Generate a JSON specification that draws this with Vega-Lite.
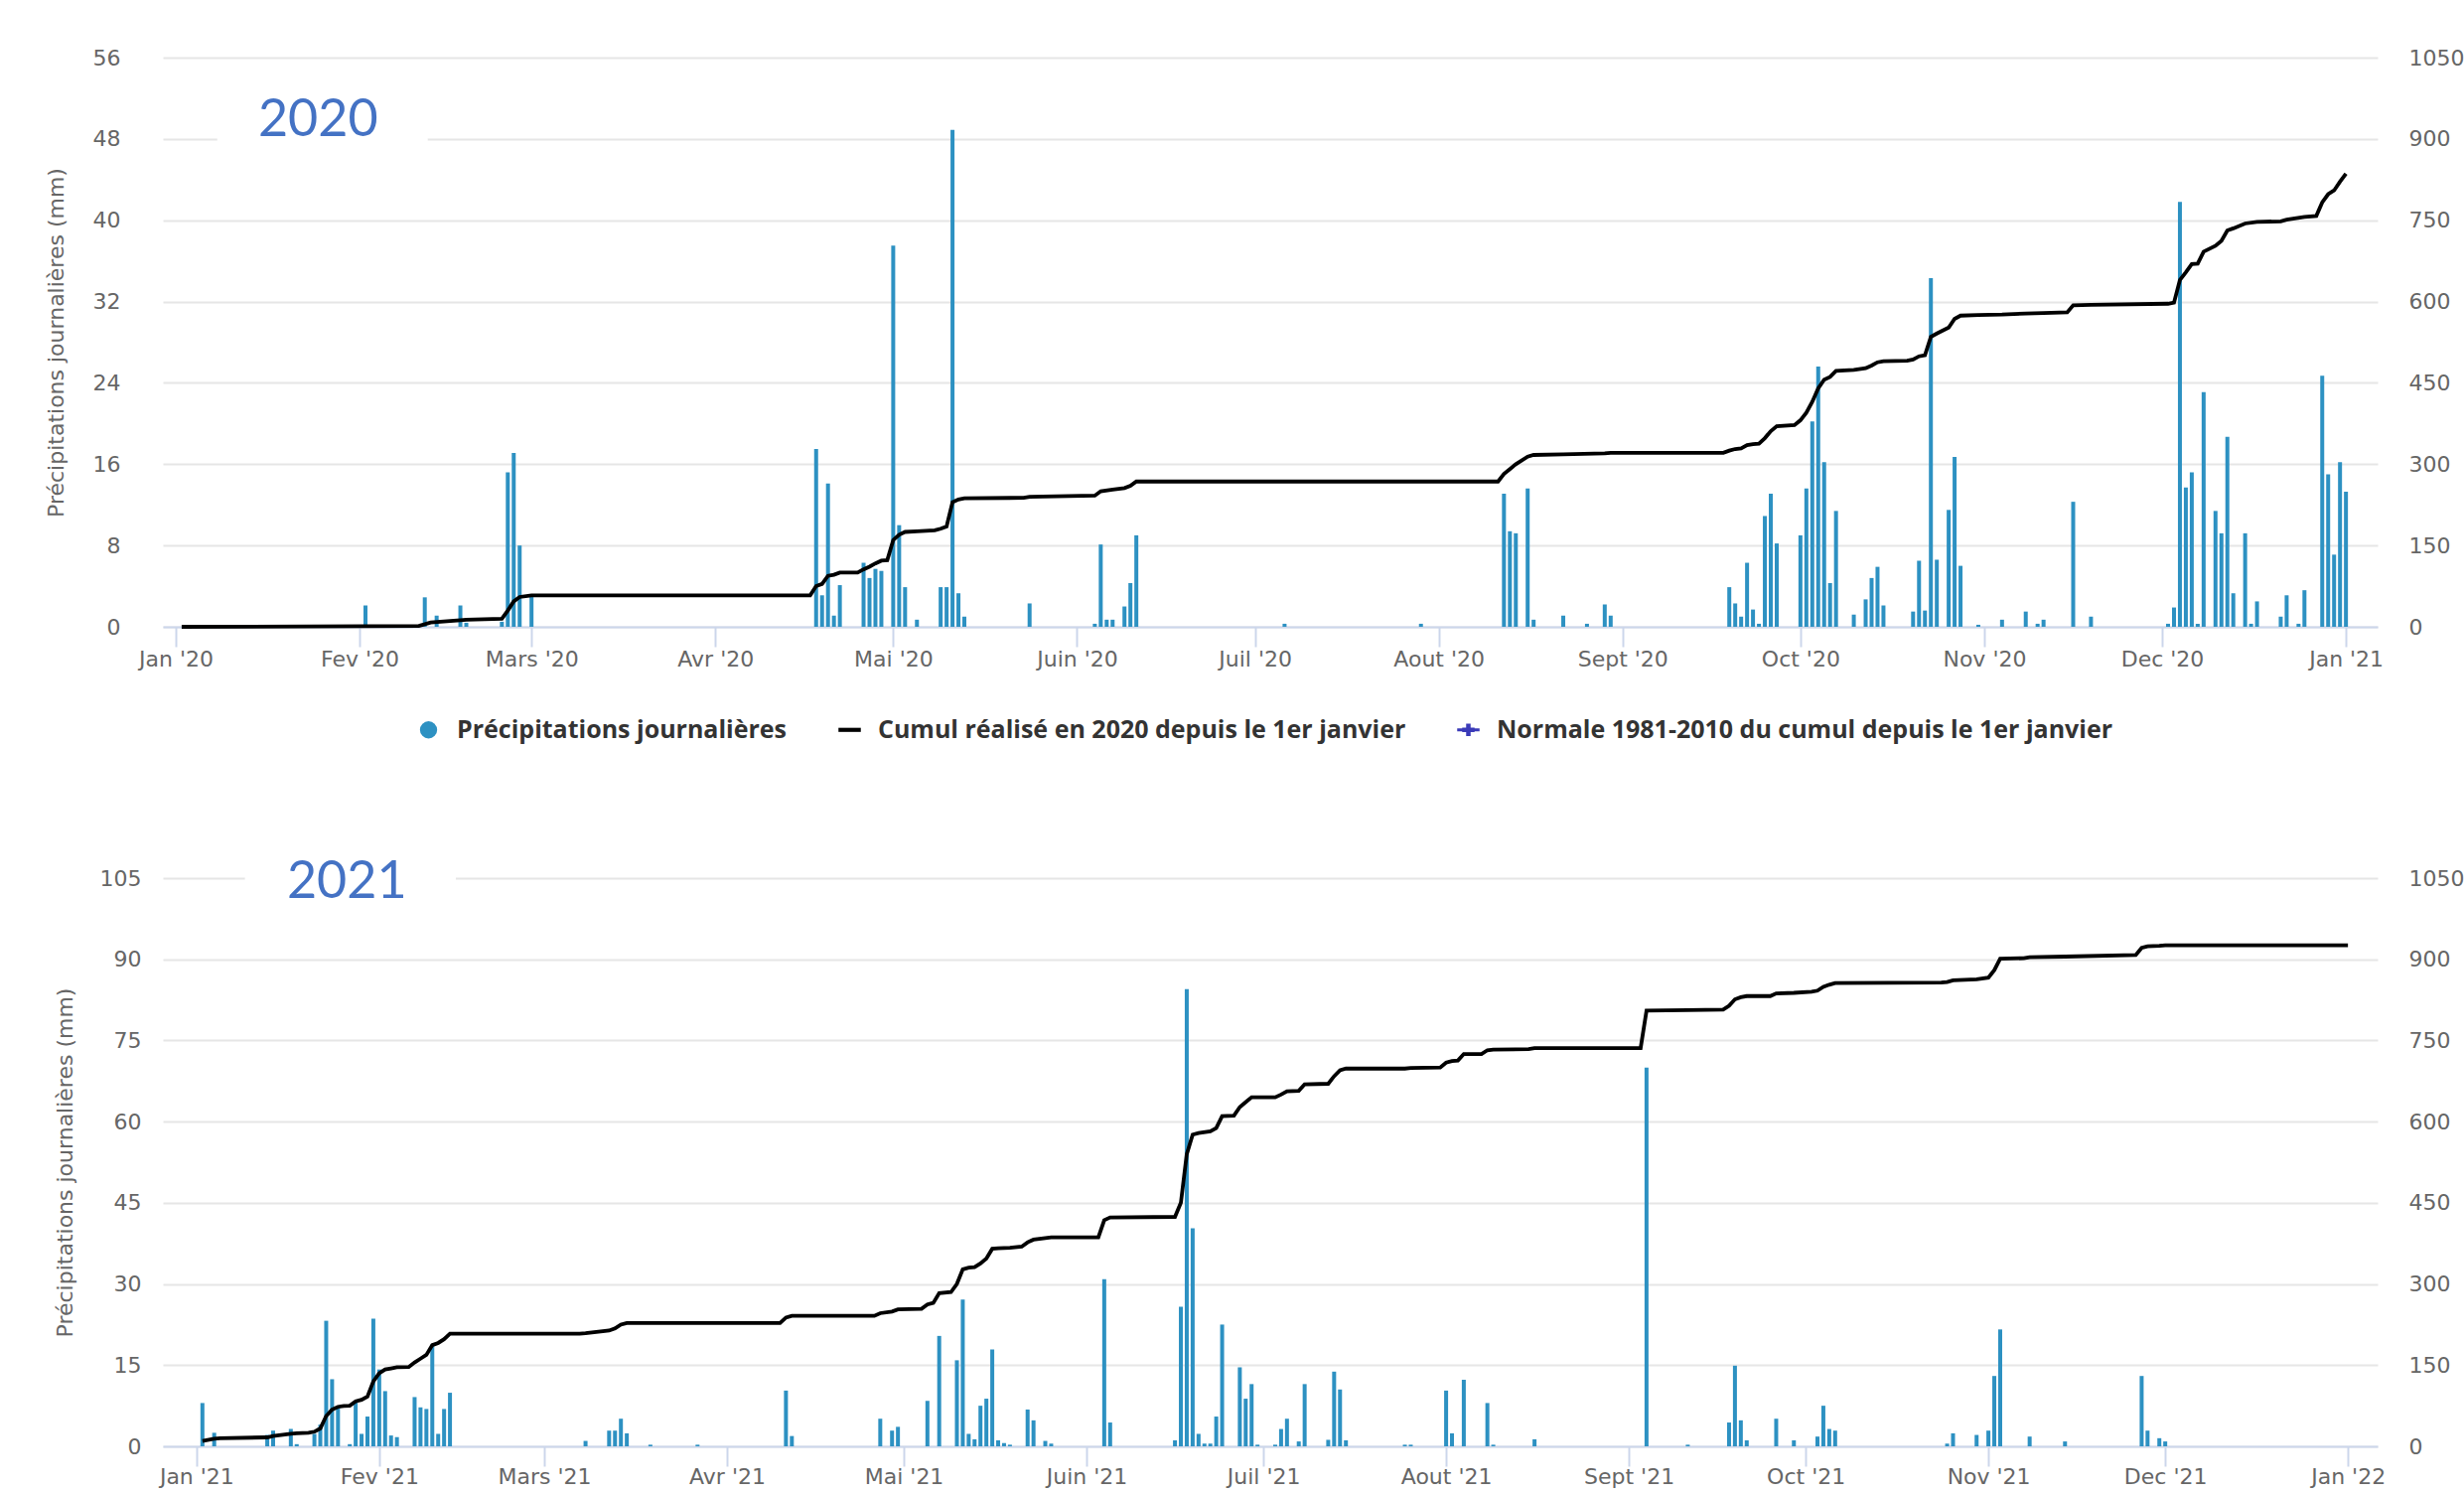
{
"$schema": "https://vega.github.io/schema/vega-lite/v6.json",
"background": "white",
"padding": {"top": 47, "left": 45, "right": 0, "bottom": 5},
"spacing": 188,
"columns": 1,
"align": "none",
"config": {
  "view": {"stroke": null},
  "font": "DejaVu Sans",
  "axis": {"labelFont": "DejaVu Sans", "labelFontSize": 22, "labelColor": "#666666", "titleFont": "DejaVu Sans", "titleFontSize": 22, "titleColor": "#666666", "titleFontWeight": "normal", "gridColor": "#e6e6e6", "gridWidth": 2}
},
"datasets": {
"p2020": [
{"date":"2020-02-02","p":2.1},{"date":"2020-02-12","p":2.9},{"date":"2020-02-14","p":1.1},{"date":"2020-02-18","p":2.1},{"date":"2020-02-19","p":0.4},{"date":"2020-02-25","p":0.5},{"date":"2020-02-26","p":15.2},{"date":"2020-02-27","p":17.1},{"date":"2020-02-28","p":8.0},{"date":"2020-03-01","p":3.1},
{"date":"2020-04-18","p":17.5},{"date":"2020-04-19","p":3.1},{"date":"2020-04-20","p":14.1},{"date":"2020-04-21","p":1.1},{"date":"2020-04-22","p":4.1},{"date":"2020-04-26","p":6.3},{"date":"2020-04-27","p":4.8},{"date":"2020-04-28","p":5.7},{"date":"2020-04-29","p":5.5},
{"date":"2020-05-01","p":37.5},{"date":"2020-05-02","p":10.0},{"date":"2020-05-03","p":3.9},{"date":"2020-05-05","p":0.7},{"date":"2020-05-09","p":3.9},{"date":"2020-05-10","p":3.9},{"date":"2020-05-11","p":48.9},{"date":"2020-05-12","p":3.3},{"date":"2020-05-13","p":1.0},{"date":"2020-05-24","p":2.3},
{"date":"2020-06-04","p":0.3},{"date":"2020-06-05","p":8.1},{"date":"2020-06-06","p":0.7},{"date":"2020-06-07","p":0.7},{"date":"2020-06-09","p":2.0},{"date":"2020-06-10","p":4.3},{"date":"2020-06-11","p":9.0},
{"date":"2020-07-06","p":0.3},{"date":"2020-07-29","p":0.3},
{"date":"2020-08-12","p":13.1},{"date":"2020-08-13","p":9.4},{"date":"2020-08-14","p":9.2},{"date":"2020-08-16","p":13.6},{"date":"2020-08-17","p":0.7},{"date":"2020-08-22","p":1.1},{"date":"2020-08-26","p":0.3},{"date":"2020-08-29","p":2.2},{"date":"2020-08-30","p":1.1},
{"date":"2020-09-19","p":3.9},{"date":"2020-09-20","p":2.3},{"date":"2020-09-21","p":1.0},{"date":"2020-09-22","p":6.3},{"date":"2020-09-23","p":1.7},{"date":"2020-09-24","p":0.3},{"date":"2020-09-25","p":10.9},{"date":"2020-09-26","p":13.1},{"date":"2020-09-27","p":8.2},
{"date":"2020-10-01","p":9.0},{"date":"2020-10-02","p":13.6},{"date":"2020-10-03","p":20.2},{"date":"2020-10-04","p":25.6},{"date":"2020-10-05","p":16.2},{"date":"2020-10-06","p":4.3},{"date":"2020-10-07","p":11.4},{"date":"2020-10-10","p":1.2},{"date":"2020-10-12","p":2.7},{"date":"2020-10-13","p":4.8},{"date":"2020-10-14","p":5.9},{"date":"2020-10-15","p":2.1},{"date":"2020-10-20","p":1.5},{"date":"2020-10-21","p":6.5},{"date":"2020-10-22","p":1.6},{"date":"2020-10-23","p":34.3},{"date":"2020-10-24","p":6.6},{"date":"2020-10-26","p":11.5},{"date":"2020-10-27","p":16.7},{"date":"2020-10-28","p":6.0},{"date":"2020-10-31","p":0.2},
{"date":"2020-11-04","p":0.7},{"date":"2020-11-08","p":1.5},{"date":"2020-11-10","p":0.3},{"date":"2020-11-11","p":0.7},{"date":"2020-11-16","p":12.3},{"date":"2020-11-19","p":1.0},
{"date":"2020-12-02","p":0.3},{"date":"2020-12-03","p":1.9},{"date":"2020-12-04","p":41.8},{"date":"2020-12-05","p":13.7},{"date":"2020-12-06","p":15.2},{"date":"2020-12-07","p":0.3},{"date":"2020-12-08","p":23.1},{"date":"2020-12-10","p":11.4},{"date":"2020-12-11","p":9.2},{"date":"2020-12-12","p":18.7},{"date":"2020-12-13","p":3.3},{"date":"2020-12-15","p":9.2},{"date":"2020-12-16","p":0.3},{"date":"2020-12-17","p":2.5},{"date":"2020-12-21","p":1.0},{"date":"2020-12-22","p":3.1},{"date":"2020-12-24","p":0.3},{"date":"2020-12-25","p":3.6},{"date":"2020-12-28","p":24.7},{"date":"2020-12-29","p":15.0},{"date":"2020-12-30","p":7.1},{"date":"2020-12-31","p":16.2},{"date":"2021-01-01","p":13.3}
],
"c2020": [
{"date":"2020-01-02","c":0},{"date":"2020-02-02","c":1},{"date":"2020-02-11","c":1.5},{"date":"2020-02-13","c":8},{"date":"2020-02-18","c":12},{"date":"2020-02-19","c":13},{"date":"2020-02-25","c":15},{"date":"2020-02-26","c":30},{"date":"2020-02-27","c":47},{"date":"2020-02-28","c":55},{"date":"2020-03-01","c":58},
{"date":"2020-04-17","c":58},{"date":"2020-04-18","c":75},{"date":"2020-04-19","c":79},{"date":"2020-04-20","c":94},{"date":"2020-04-21","c":96},{"date":"2020-04-22","c":100},{"date":"2020-04-25","c":100},{"date":"2020-04-26","c":106},{"date":"2020-04-27","c":111},{"date":"2020-04-28","c":117},{"date":"2020-04-29","c":122},{"date":"2020-04-30","c":123},
{"date":"2020-05-01","c":160},{"date":"2020-05-02","c":170},{"date":"2020-05-03","c":175},{"date":"2020-05-05","c":176},{"date":"2020-05-08","c":178},{"date":"2020-05-09","c":181},{"date":"2020-05-10","c":185},{"date":"2020-05-11","c":230},{"date":"2020-05-12","c":235},{"date":"2020-05-13","c":237},{"date":"2020-05-23","c":238},{"date":"2020-05-24","c":240},
{"date":"2020-06-04","c":242},{"date":"2020-06-05","c":250},{"date":"2020-06-07","c":253},{"date":"2020-06-09","c":256},{"date":"2020-06-10","c":260},{"date":"2020-06-11","c":268},
{"date":"2020-08-11","c":268},{"date":"2020-08-12","c":282},{"date":"2020-08-13","c":291},{"date":"2020-08-14","c":300},{"date":"2020-08-16","c":314},{"date":"2020-08-17","c":317},{"date":"2020-08-22","c":318},{"date":"2020-08-29","c":320},{"date":"2020-08-30","c":321},
{"date":"2020-09-18","c":321},{"date":"2020-09-19","c":325},{"date":"2020-09-20","c":328},{"date":"2020-09-21","c":329},{"date":"2020-09-22","c":335},{"date":"2020-09-23","c":337},{"date":"2020-09-24","c":338},{"date":"2020-09-25","c":348},{"date":"2020-09-26","c":361},{"date":"2020-09-27","c":370},{"date":"2020-09-30","c":372},
{"date":"2020-10-01","c":381},{"date":"2020-10-02","c":395},{"date":"2020-10-03","c":415},{"date":"2020-10-04","c":440},{"date":"2020-10-05","c":456},{"date":"2020-10-06","c":461},{"date":"2020-10-07","c":472},{"date":"2020-10-10","c":474},{"date":"2020-10-12","c":477},{"date":"2020-10-13","c":482},{"date":"2020-10-14","c":488},{"date":"2020-10-15","c":490},{"date":"2020-10-19","c":491},{"date":"2020-10-20","c":493},{"date":"2020-10-21","c":499},{"date":"2020-10-22","c":501},{"date":"2020-10-23","c":535},{"date":"2020-10-24","c":541},{"date":"2020-10-26","c":552},{"date":"2020-10-27","c":568},{"date":"2020-10-28","c":574},{"date":"2020-10-31","c":575},
{"date":"2020-11-04","c":576},{"date":"2020-11-08","c":578},{"date":"2020-11-11","c":579},{"date":"2020-11-15","c":580},{"date":"2020-11-16","c":593},{"date":"2020-11-19","c":594},
{"date":"2020-12-02","c":596},{"date":"2020-12-03","c":598},{"date":"2020-12-04","c":640},{"date":"2020-12-05","c":654},{"date":"2020-12-06","c":669},{"date":"2020-12-07","c":670},{"date":"2020-12-08","c":692},{"date":"2020-12-10","c":703},{"date":"2020-12-11","c":712},{"date":"2020-12-12","c":731},{"date":"2020-12-13","c":735},{"date":"2020-12-15","c":744},{"date":"2020-12-17","c":747},{"date":"2020-12-21","c":748},{"date":"2020-12-22","c":751},{"date":"2020-12-25","c":756},{"date":"2020-12-27","c":758},{"date":"2020-12-28","c":783},{"date":"2020-12-29","c":798},{"date":"2020-12-30","c":805},{"date":"2020-12-31","c":821},{"date":"2021-01-01","c":836}
],
"p2021": [
{"date":"2021-01-02","p":8.0},{"date":"2021-01-04","p":2.5},{"date":"2021-01-13","p":2.1},{"date":"2021-01-14","p":2.9},{"date":"2021-01-17","p":3.2},{"date":"2021-01-18","p":0.4},{"date":"2021-01-21","p":2.3},{"date":"2021-01-22","p":4.0},{"date":"2021-01-23","p":23.2},{"date":"2021-01-24","p":12.4},{"date":"2021-01-25","p":7.2},{"date":"2021-01-27","p":0.4},{"date":"2021-01-28","p":8.1},{"date":"2021-01-29","p":2.3},{"date":"2021-01-30","p":5.5},{"date":"2021-01-31","p":23.6},
{"date":"2021-02-01","p":14.2},{"date":"2021-02-02","p":10.2},{"date":"2021-02-03","p":2.0},{"date":"2021-02-04","p":1.7},{"date":"2021-02-07","p":9.1},{"date":"2021-02-08","p":7.2},{"date":"2021-02-09","p":6.9},{"date":"2021-02-10","p":18.8},{"date":"2021-02-11","p":2.3},{"date":"2021-02-12","p":6.9},{"date":"2021-02-13","p":9.9},
{"date":"2021-03-08","p":1.0},{"date":"2021-03-12","p":2.9},{"date":"2021-03-13","p":2.9},{"date":"2021-03-14","p":5.1},{"date":"2021-03-15","p":2.4},{"date":"2021-03-19","p":0.3},{"date":"2021-03-27","p":0.3},
{"date":"2021-04-11","p":10.3},{"date":"2021-04-12","p":1.9},{"date":"2021-04-27","p":5.1},{"date":"2021-04-29","p":2.9},{"date":"2021-04-30","p":3.6},
{"date":"2021-05-05","p":8.4},{"date":"2021-05-07","p":20.4},{"date":"2021-05-10","p":15.9},{"date":"2021-05-11","p":27.1},{"date":"2021-05-12","p":2.3},{"date":"2021-05-13","p":1.3},{"date":"2021-05-14","p":7.5},{"date":"2021-05-15","p":8.8},{"date":"2021-05-16","p":17.9},{"date":"2021-05-17","p":1.1},{"date":"2021-05-18","p":0.6},{"date":"2021-05-19","p":0.3},{"date":"2021-05-22","p":6.8},{"date":"2021-05-23","p":4.8},{"date":"2021-05-25","p":1.0},{"date":"2021-05-26","p":0.5},
{"date":"2021-06-04","p":30.9},{"date":"2021-06-05","p":4.4},{"date":"2021-06-16","p":1.1},{"date":"2021-06-17","p":25.8},{"date":"2021-06-18","p":84.5},{"date":"2021-06-19","p":40.3},{"date":"2021-06-20","p":2.3},{"date":"2021-06-21","p":0.5},{"date":"2021-06-22","p":0.5},{"date":"2021-06-23","p":5.5},{"date":"2021-06-24","p":22.5},{"date":"2021-06-27","p":14.6},{"date":"2021-06-28","p":8.8},{"date":"2021-06-29","p":11.5},{"date":"2021-06-30","p":0.3},
{"date":"2021-07-03","p":0.3},{"date":"2021-07-04","p":3.2},{"date":"2021-07-05","p":5.1},{"date":"2021-07-07","p":0.9},{"date":"2021-07-08","p":11.5},{"date":"2021-07-12","p":1.2},{"date":"2021-07-13","p":13.8},{"date":"2021-07-14","p":10.5},{"date":"2021-07-15","p":1.1},{"date":"2021-07-25","p":0.3},{"date":"2021-07-26","p":0.3},
{"date":"2021-08-01","p":10.3},{"date":"2021-08-02","p":2.4},{"date":"2021-08-04","p":12.3},{"date":"2021-08-08","p":8.0},{"date":"2021-08-09","p":0.3},{"date":"2021-08-16","p":1.3},
{"date":"2021-09-04","p":70.0},{"date":"2021-09-11","p":0.3},{"date":"2021-09-18","p":4.4},{"date":"2021-09-19","p":14.9},{"date":"2021-09-20","p":4.8},{"date":"2021-09-21","p":1.1},{"date":"2021-09-26","p":5.1},{"date":"2021-09-29","p":1.1},
{"date":"2021-10-03","p":1.8},{"date":"2021-10-04","p":7.5},{"date":"2021-10-05","p":3.2},{"date":"2021-10-06","p":2.9},{"date":"2021-10-25","p":0.5},{"date":"2021-10-26","p":2.4},{"date":"2021-10-30","p":2.1},
{"date":"2021-11-01","p":2.9},{"date":"2021-11-02","p":13.0},{"date":"2021-11-03","p":21.6},{"date":"2021-11-08","p":1.8},{"date":"2021-11-14","p":0.9},{"date":"2021-11-27","p":13.0},{"date":"2021-11-28","p":2.9},{"date":"2021-11-30","p":1.5},{"date":"2021-12-01","p":0.9}
],
"c2021": [
{"date":"2021-01-02","c":10},{"date":"2021-01-04","c":14},{"date":"2021-01-05","c":15},{"date":"2021-01-13","c":16.5},{"date":"2021-01-14","c":19},{"date":"2021-01-17","c":23},{"date":"2021-01-18","c":24},{"date":"2021-01-20","c":25},{"date":"2021-01-21","c":27},{"date":"2021-01-22","c":33},{"date":"2021-01-23","c":56},{"date":"2021-01-24","c":68},{"date":"2021-01-25","c":73},{"date":"2021-01-26","c":74.5},{"date":"2021-01-27","c":75},{"date":"2021-01-28","c":83},{"date":"2021-01-29","c":86},{"date":"2021-01-30","c":92},{"date":"2021-01-31","c":120},
{"date":"2021-02-01","c":135},{"date":"2021-02-02","c":142},{"date":"2021-02-03","c":144},{"date":"2021-02-04","c":146},{"date":"2021-02-06","c":146.5},{"date":"2021-02-07","c":155},{"date":"2021-02-08","c":162},{"date":"2021-02-09","c":169},{"date":"2021-02-10","c":187},{"date":"2021-02-11","c":191},{"date":"2021-02-12","c":198},{"date":"2021-02-13","c":208},
{"date":"2021-03-07","c":208},{"date":"2021-03-08","c":209},{"date":"2021-03-12","c":214},{"date":"2021-03-13","c":218},{"date":"2021-03-14","c":225},{"date":"2021-03-15","c":228},
{"date":"2021-04-10","c":228},{"date":"2021-04-11","c":238},{"date":"2021-04-12","c":241},{"date":"2021-04-26","c":241},{"date":"2021-04-27","c":246},{"date":"2021-04-29","c":249},{"date":"2021-04-30","c":253},
{"date":"2021-05-04","c":254},{"date":"2021-05-05","c":262},{"date":"2021-05-06","c":265},{"date":"2021-05-07","c":283},{"date":"2021-05-09","c":285},{"date":"2021-05-10","c":300},{"date":"2021-05-11","c":327},{"date":"2021-05-12","c":330},{"date":"2021-05-13","c":331},{"date":"2021-05-14","c":338},{"date":"2021-05-15","c":347},{"date":"2021-05-16","c":365},{"date":"2021-05-17","c":366},{"date":"2021-05-19","c":367},{"date":"2021-05-21","c":369},{"date":"2021-05-22","c":377},{"date":"2021-05-23","c":382},{"date":"2021-05-25","c":385},{"date":"2021-05-26","c":386},
{"date":"2021-06-03","c":386},{"date":"2021-06-04","c":418},{"date":"2021-06-05","c":423},{"date":"2021-06-16","c":424},{"date":"2021-06-17","c":450},{"date":"2021-06-18","c":540},{"date":"2021-06-19","c":576},{"date":"2021-06-20","c":579},{"date":"2021-06-22","c":582},{"date":"2021-06-23","c":588},{"date":"2021-06-24","c":610},{"date":"2021-06-26","c":611},{"date":"2021-06-27","c":627},{"date":"2021-06-28","c":636},{"date":"2021-06-29","c":645},
{"date":"2021-07-03","c":645},{"date":"2021-07-04","c":650},{"date":"2021-07-05","c":656},{"date":"2021-07-07","c":657},{"date":"2021-07-08","c":669},{"date":"2021-07-12","c":670},{"date":"2021-07-13","c":684},{"date":"2021-07-14","c":695},{"date":"2021-07-15","c":698},{"date":"2021-07-25","c":698},{"date":"2021-07-26","c":699},{"date":"2021-07-31","c":700},
{"date":"2021-08-01","c":709},{"date":"2021-08-02","c":712},{"date":"2021-08-03","c":713},{"date":"2021-08-04","c":725},{"date":"2021-08-07","c":725},{"date":"2021-08-08","c":732},{"date":"2021-08-09","c":733},{"date":"2021-08-15","c":734},{"date":"2021-08-16","c":736},
{"date":"2021-09-03","c":736},{"date":"2021-09-04","c":805},{"date":"2021-09-11","c":806},{"date":"2021-09-17","c":807},{"date":"2021-09-18","c":814},{"date":"2021-09-19","c":826},{"date":"2021-09-20","c":830},{"date":"2021-09-21","c":832},{"date":"2021-09-25","c":832},{"date":"2021-09-26","c":837},{"date":"2021-09-29","c":838},
{"date":"2021-10-02","c":840},{"date":"2021-10-03","c":842},{"date":"2021-10-04","c":849},{"date":"2021-10-05","c":853},{"date":"2021-10-06","c":856},{"date":"2021-10-24","c":857},{"date":"2021-10-25","c":858},{"date":"2021-10-26","c":861},{"date":"2021-10-30","c":863},
{"date":"2021-11-01","c":866},{"date":"2021-11-02","c":880},{"date":"2021-11-03","c":901},{"date":"2021-11-07","c":902},{"date":"2021-11-08","c":904},{"date":"2021-11-14","c":905},{"date":"2021-11-26","c":908},{"date":"2021-11-27","c":921},{"date":"2021-11-28","c":924},{"date":"2021-11-30","c":925},
{"date":"2021-12-01","c":926},{"date":"2022-01-01","c":926}
]
},
"concat": [
{
  "width": 2230, "height": 573,
  "layer": [
    {
      "layer": [
        {
          "data": {"name": "p2020"},
          "mark": {"type": "bar", "width": 4, "color": "#2d91c2"},
          "encoding": {
            "x": {"field": "date", "type": "temporal",
              "scale": {"type": "utc", "domain": [{"year": 2019, "month": 12, "date": 30, "hours": 16, "utc": true}, {"year": 2021, "month": 1, "date": 5, "hours": 12, "utc": true}]},
              "axis": {"title": null, "grid": false, "labelFlush": false, "labelOverlap": false,
                "values": [{"year":2020,"month":1,"date":1,"utc":true},{"year":2020,"month":2,"date":1,"utc":true},{"year":2020,"month":3,"date":1,"utc":true},{"year":2020,"month":4,"date":1,"utc":true},{"year":2020,"month":5,"date":1,"utc":true},{"year":2020,"month":6,"date":1,"utc":true},{"year":2020,"month":7,"date":1,"utc":true},{"year":2020,"month":8,"date":1,"utc":true},{"year":2020,"month":9,"date":1,"utc":true},{"year":2020,"month":10,"date":1,"utc":true},{"year":2020,"month":11,"date":1,"utc":true},{"year":2020,"month":12,"date":1,"utc":true},{"year":2021,"month":1,"date":1,"utc":true}],
                "labelExpr": "['Jan','Fev','Mars','Avr','Mai','Juin','Juil','Aout','Sept','Oct','Nov','Dec'][utcmonth(datum.value)] + \" '\" + utcFormat(datum.value, '%y')",
                "domainColor": "#ccd6eb", "domainWidth": 2, "tickColor": "#ccd6eb", "tickWidth": 2, "tickSize": 20, "labelPadding": 2}},
            "y": {"field": "p", "type": "quantitative", "scale": {"domain": [0, 56], "nice": false, "zero": false},
              "axis": {"orient": "left", "title": "Précipitations journalières (mm)", "values": [0, 8, 16, 24, 32, 40, 48, 56], "grid": true, "domain": false, "ticks": false, "tickSize": 0, "labelPadding": 43, "titlePadding": 25}}
          }
        },
        {
          "data": {"values": [{}]},
          "mark": {"type": "rect", "color": "white"},
          "encoding": {
            "x": {"datum": {"year": 2020, "month": 1, "date": 8, "utc": true}},
            "x2": {"datum": {"year": 2020, "month": 2, "date": 12, "hours": 12, "utc": true}},
            "y": {"datum": 47.4, "scale": {"domain": [0, 56], "nice": false, "zero": false}},
            "y2": {"datum": 48.6}
          }
        },
        {
          "data": {"values": [{}]},
          "mark": {"type": "text", "text": "2020", "font": "Lato", "fontSize": 52, "color": "#4472c4", "baseline": "middle", "align": "center"},
          "encoding": {
            "x": {"datum": {"year": 2020, "month": 1, "date": 25, "utc": true}},
            "y": {"datum": 49.8, "scale": {"domain": [0, 56], "nice": false, "zero": false}}
          }
        },
        {
          "data": {"values": [{"serie": "Précipitations journalières"}, {"serie": "Cumul réalisé en 2020 depuis le 1er janvier"}, {"serie": "Normale 1981-2010 du cumul depuis le 1er janvier"}]},
          "mark": {"type": "point", "filled": true, "clip": true, "opacity": 1, "size": 300},
          "encoding": {
            "x": {"datum": {"year": 2020, "month": 6, "date": 1, "utc": true}},
            "y": {"datum": -40, "scale": {"domain": [0, 56], "nice": false, "zero": false}},
            "color": {"field": "serie", "type": "nominal",
              "scale": {"domain": ["Précipitations journalières", "Cumul réalisé en 2020 depuis le 1er janvier", "Normale 1981-2010 du cumul depuis le 1er janvier"], "range": ["#2d91c2", "#000000", "#3a3ab8"]},
              "legend": {"orient": "none", "legendX": 255, "legendY": 664, "direction": "horizontal", "columns": 3, "title": null, "padding": 0,
                "labelFont": "Open Sans", "labelFontSize": 25, "labelFontWeight": "bold", "labelColor": "#333333", "labelLimit": 0,
                "symbolSize": 300, "symbolOpacity": 1, "symbolStrokeWidth": 0, "columnPadding": 50, "labelOffset": 16}},
            "shape": {"field": "serie", "type": "nominal",
              "scale": {"domain": ["Précipitations journalières", "Cumul réalisé en 2020 depuis le 1er janvier", "Normale 1981-2010 du cumul depuis le 1er janvier"], "range": ["circle", "M-1.3,-0.24H1.3V0.24H-1.3Z", "M-1.3,-0.17H1.3V0.17H-1.3Z M-0.26,-0.72H0.26V0.72H-0.26Z M-0.72,-0.26H0.72V0.26H-0.72Z"]}}
          }
        }
      ]
    },
    {
      "data": {"name": "c2020"},
      "mark": {"type": "line", "color": "#000000", "strokeWidth": 3.8},
      "encoding": {
        "x": {"field": "date", "type": "temporal"},
        "y": {"field": "c", "type": "quantitative", "scale": {"domain": [0, 1050], "nice": false},
          "axis": {"orient": "right", "title": null, "format": "d", "values": [0, 150, 300, 450, 600, 750, 900, 1050], "grid": false, "domain": false, "ticks": false, "tickSize": 0, "labelPadding": 31}}
      }
    }
  ],
  "resolve": {"scale": {"y": "independent"}}
},
{
  "width": 2230, "height": 572,
  "layer": [
    {
      "layer": [
        {
          "data": {"name": "p2021"},
          "mark": {"type": "bar", "width": 4, "color": "#2d91c2"},
          "encoding": {
            "x": {"field": "date", "type": "temporal",
              "scale": {"type": "utc", "domain": [{"year": 2020, "month": 12, "date": 27, "hours": 3, "minutes": 15, "utc": true}, {"year": 2022, "month": 1, "date": 5, "hours": 4, "minutes": 30, "utc": true}]},
              "axis": {"title": null, "grid": false, "labelFlush": false, "labelOverlap": false,
                "values": [{"year":2021,"month":1,"date":1,"utc":true},{"year":2021,"month":2,"date":1,"utc":true},{"year":2021,"month":3,"date":1,"utc":true},{"year":2021,"month":4,"date":1,"utc":true},{"year":2021,"month":5,"date":1,"utc":true},{"year":2021,"month":6,"date":1,"utc":true},{"year":2021,"month":7,"date":1,"utc":true},{"year":2021,"month":8,"date":1,"utc":true},{"year":2021,"month":9,"date":1,"utc":true},{"year":2021,"month":10,"date":1,"utc":true},{"year":2021,"month":11,"date":1,"utc":true},{"year":2021,"month":12,"date":1,"utc":true},{"year":2022,"month":1,"date":1,"utc":true}],
                "labelExpr": "['Jan','Fev','Mars','Avr','Mai','Juin','Juil','Aout','Sept','Oct','Nov','Dec'][utcmonth(datum.value)] + \" '\" + utcFormat(datum.value, '%y')",
                "domainColor": "#ccd6eb", "domainWidth": 2, "tickColor": "#ccd6eb", "tickWidth": 2, "tickSize": 20, "labelPadding": 0}},
            "y": {"field": "p", "type": "quantitative", "scale": {"domain": [0, 105], "nice": false, "zero": false},
              "axis": {"orient": "left", "title": "Précipitations journalières (mm)", "values": [0, 15, 30, 45, 60, 75, 90, 105], "grid": true, "domain": false, "ticks": false, "tickSize": 0, "labelPadding": 22, "titlePadding": 23}}
          }
        },
        {
          "data": {"values": [{}]},
          "mark": {"type": "rect", "color": "white"},
          "encoding": {
            "x": {"datum": {"year": 2021, "month": 1, "date": 9, "hours": 5, "utc": true}},
            "x2": {"datum": {"year": 2021, "month": 2, "date": 14, "utc": true}},
            "y": {"datum": 104.3, "scale": {"domain": [0, 105], "nice": false, "zero": false}},
            "y2": {"datum": 105.7}
          }
        },
        {
          "data": {"values": [{}]},
          "mark": {"type": "text", "text": "2021", "font": "Lato", "fontSize": 52, "color": "#4472c4", "baseline": "middle", "align": "center"},
          "encoding": {
            "x": {"datum": {"year": 2021, "month": 1, "date": 26, "hours": 12, "utc": true}},
            "y": {"datum": 104.2, "scale": {"domain": [0, 105], "nice": false, "zero": false}}
          }
        }
      ]
    },
    {
      "data": {"name": "c2021"},
      "mark": {"type": "line", "color": "#000000", "strokeWidth": 3.8},
      "encoding": {
        "x": {"field": "date", "type": "temporal"},
        "y": {"field": "c", "type": "quantitative", "scale": {"domain": [0, 1050], "nice": false},
          "axis": {"orient": "right", "title": null, "format": "d", "values": [0, 150, 300, 450, 600, 750, 900, 1050], "grid": false, "domain": false, "ticks": false, "tickSize": 0, "labelPadding": 31}}
      }
    }
  ],
  "resolve": {"scale": {"y": "independent"}}
}
]
}
